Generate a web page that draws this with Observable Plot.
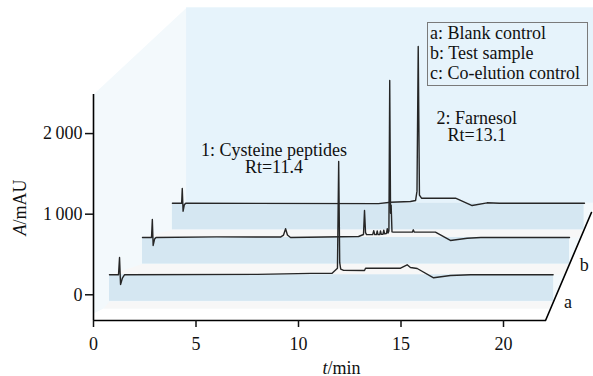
<!DOCTYPE html>
<html><head><meta charset="utf-8">
<script src="https://cdn.jsdelivr.net/npm/d3@7"></script>
<script src="https://cdn.jsdelivr.net/npm/@observablehq/plot@0.6"></script>
<style>
body{margin:0;background:#fff;}
#wrap{position:relative;width:593px;height:376px;overflow:hidden;font-family:"Liberation Serif","Times New Roman",Times,"DejaVu Serif",serif;}
#wrap svg, #wrap svg text{font-family:"Liberation Serif","Times New Roman",Times,"DejaVu Serif",serif !important;}
#legend{position:absolute;left:427px;top:22px;width:161px;height:64px;box-sizing:border-box;border:1px solid #7a7a7a;padding:0 0 0 2px;font-size:18px;line-height:20px;color:#111;white-space:nowrap;}
</style></head><body><div id="wrap"></div>
<script>
// ---------------- data ----------------
const traceNames = ["a", "b", "c"];
const legendLabels = ["a: Blank control", "b: Test sample", "c: Co-elution control"];
const traceStart = [0.78, 2.39, 3.85];        // min (axis time where each trace begins)
const traceBaseline = [248, 711, 1136];       // mAU offset of each trace

const timeA   = [0.78, 1.22, 1.27, 1.32, 1.41, 1.51, 8.0, 10.6, 11.64, 11.90, 11.96, 12.01, 12.06, 12.20, 13.22, 13.27, 14.98, 15.30, 15.46, 15.79, 16.59, 17.41, 18.39, 22.42];
const signalA = [0,    0,    215, -120, -40,  0,    5,   18,   20,    80,    1406,  150,   70,    55,    53,    82,    82,    124,   90,    78,    -37,   -9,    0,     0];

const timeB   = [2.39, 2.83, 2.87, 2.91, 2.98, 3.05, 6.0, 9.12, 9.27, 9.37, 9.46, 9.61, 12.93, 13.17, 13.22, 13.27, 13.32, 13.62, 13.67, 13.72, 13.80, 13.84, 13.88, 13.96, 14.00, 14.04, 14.12, 14.16, 14.20, 14.29, 14.33, 14.37, 14.41, 14.45, 14.49, 14.52, 14.56, 14.62, 15.55, 15.60, 15.65, 16.68, 17.41, 18.23, 18.9, 23.22];
const signalB = [0,    0,    223, -99,  -20,  0,    8,   5,    30,   108,  30,   0,    12,    37,    335,   60,    35,    35,    85,    35,    35,    80,    35,    35,    80,    38,    40,    90,    45,    50,    110,   55,    80,    1948,  300,   400,   70,    66,    66,    95,    66,    66,    -37,   -9,    0,    0];

const timeC   = [3.85, 4.30, 4.33, 4.37, 4.43, 4.50, 13.9, 14.49, 15.46, 15.71, 15.78, 15.84, 15.90, 16.0, 17.66, 18.47, 19.2, 19.8, 23.95];
const signalC = [0,    0,    182, -99,  -20,  0,    -5,   12,    21,    33,    150,   1944,  100,   62,   62,    -29,   5,    0,    0];

const xTicks = [0, 5, 10, 15, 20];
const yTicks = [0, 1000, 2000];
const peakNames = ["1: Cysteine peptides", "Rt=11.4", "2: Farnesol", "Rt=13.1"];

// ---------------- layout (data units) ----------------
const X_MAX = 24.39, Y_MIN = -319, Y_MAX = 3651;
const AXIS_X_END = 22.05, AXIS_Y_TOP = 2485;
const WALL_T = 4.54, WALL_TOP = 3560;
const STRIP_DEPTH = 330;
const FLOOR_A = -170, FLOOR_LEFT_T = 0.49, FLOOR_CORNER_A = -232;
const SL = {t0: 22.05, a0: -319, t1: 24.29, a1: 1021};
const slantT = a => SL.t0 + (a - SL.a0) * (SL.t1 - SL.t0) / (SL.a1 - SL.a0);
const slantA = t => SL.a0 + (t - SL.t0) * (SL.a1 - SL.a0) / (SL.t1 - SL.t0);

const COL_SIDE = "#f3f9fc", COL_WALL = "#e6f3fb", COL_STRIP = "#d5e7f2", COL_TREAD = "#f7f7f7";
const FONT = '"Liberation Serif", "Times New Roman", Times, "DejaVu Serif", serif';

const times = [timeA, timeB, timeC], signals = [signalA, signalB, signalC];
const rows = traceNames.flatMap((n, i) => times[i].map((t, j) => ({trace: n, t, A: traceBaseline[i] + signals[i][j]})));

const P = (t, A) => ({t, A});
const sidePoly = [P(0, AXIS_Y_TOP), P(WALL_T, WALL_TOP), P(X_MAX, WALL_TOP), P(X_MAX, slantA(X_MAX)),
  P(slantT(FLOOR_A), FLOOR_A), P(FLOOR_LEFT_T, FLOOR_A), P(0, FLOOR_CORNER_A)];
const strips = traceNames.map((n, i) => ({x1: traceStart[i], x2: slantT(traceBaseline[i] - STRIP_DEPTH), y1: traceBaseline[i] - STRIP_DEPTH, y2: traceBaseline[i]}));
const treads = traceNames.map((n, i) => {
  const top = traceBaseline[i] - STRIP_DEPTH;
  const bot = i > 0 ? traceBaseline[i - 1] : FLOOR_A;
  const lt = traceStart[i], lb = i > 0 ? traceStart[i - 1] : FLOOR_LEFT_T;
  return [P(lt, top), P(slantT(top), top), P(slantT(bot), bot), P(lb, bot)];
});
const sideLabels = traceNames.map((n, i) => ({n, t: slantT(traceBaseline[i] - STRIP_DEPTH) + 0.5, A: traceBaseline[i] - 340}));

const notesMid = [{s: peakNames[0], t: 8.80, A: 1790}, {s: peakNames[1], t: 8.80, A: 1579}];
const notesStart = [{s: peakNames[2], t: 16.73, A: 2187}, {s: peakNames[3], t: 17.27, A: 1976}];

const fmt = d => d3.format(",")(d).replace(/,/g, "\u2009");

const plot = Plot.plot({
  width: 593, height: 376,
  marginLeft: 93, marginRight: 0, marginTop: 0, marginBottom: 56,
  x: {domain: [0, X_MAX]},
  y: {domain: [Y_MIN, Y_MAX]},
  style: {fontFamily: FONT, fontSize: "18px", background: "white", color: "#111", overflow: "visible"},
  marks: [
    Plot.line(sidePoly, {x: "t", y: "A", fill: COL_SIDE, stroke: "none"}),
    Plot.rect([{x1: WALL_T, x2: X_MAX, y1: traceBaseline[2], y2: WALL_TOP}], {x1: "x1", x2: "x2", y1: "y1", y2: "y2", fill: COL_WALL}),
    ...treads.map(poly => Plot.line(poly, {x: "t", y: "A", fill: COL_TREAD, stroke: "none"})),
    Plot.rect(strips, {x1: "x1", x2: "x2", y1: "y1", y2: "y2", fill: COL_STRIP}),
    Plot.line(rows, {x: "t", y: "A", z: "trace", stroke: "#262626", strokeWidth: 1.4, strokeLinejoin: "round"}),
    Plot.ruleX([0], {y1: Y_MIN, y2: AXIS_Y_TOP, stroke: "#000", strokeWidth: 1.6}),
    Plot.ruleY([Y_MIN], {x1: 0, x2: AXIS_X_END, stroke: "#000", strokeWidth: 1.6}),
    Plot.line([P(SL.t0, SL.a0), P(SL.t1, SL.a1)], {x: "t", y: "A", stroke: "#000", strokeWidth: 1.6}),
    Plot.axisX({ticks: xTicks, tickSize: 7, tickPadding: 10, fontSize: 18, label: null, anchor: "bottom", strokeWidth: 1.5}),
    Plot.axisY({ticks: yTicks, tickSize: 8, tickPadding: 3, tickFormat: fmt, fontSize: 18, label: null, anchor: "left", strokeWidth: 1.5}),
    Plot.text(notesMid, {x: "t", y: "A", text: "s", textAnchor: "middle", fontSize: 18, fill: "#111"}),
    Plot.text(notesStart, {x: "t", y: "A", text: "s", textAnchor: "start", fontSize: 18, fill: "#111"}),
    Plot.text(sideLabels, {x: "t", y: "A", text: "n", textAnchor: "start", fontSize: 18, fill: "#111"}),
    Plot.text(["t/min"], {x: 12.1, y: -914, text: d => d, textAnchor: "middle", fontSize: 18, fill: "#111"}),
    Plot.text(["A/mAU"], {x: -3.56, y: 1083, text: d => d, textAnchor: "middle", rotate: -90, fontSize: 18, fill: "#111"})
  ]
});

d3.select(plot).selectAll("text").each(function () {
  const s = this.textContent;
  if (s === "t/min" || s === "A/mAU") {
    const el = d3.select(this);
    el.text("");
    el.append("tspan").attr("font-style", "italic").text(s[0]);
    el.append("tspan").text(s.slice(1));
  }
});

const wrap = document.getElementById("wrap");
wrap.appendChild(plot);
const leg = document.createElement("div");
leg.id = "legend";
leg.innerHTML = legendLabels.map(s => `<div>${s}</div>`).join("");
wrap.appendChild(leg);
</script>
</body></html>
